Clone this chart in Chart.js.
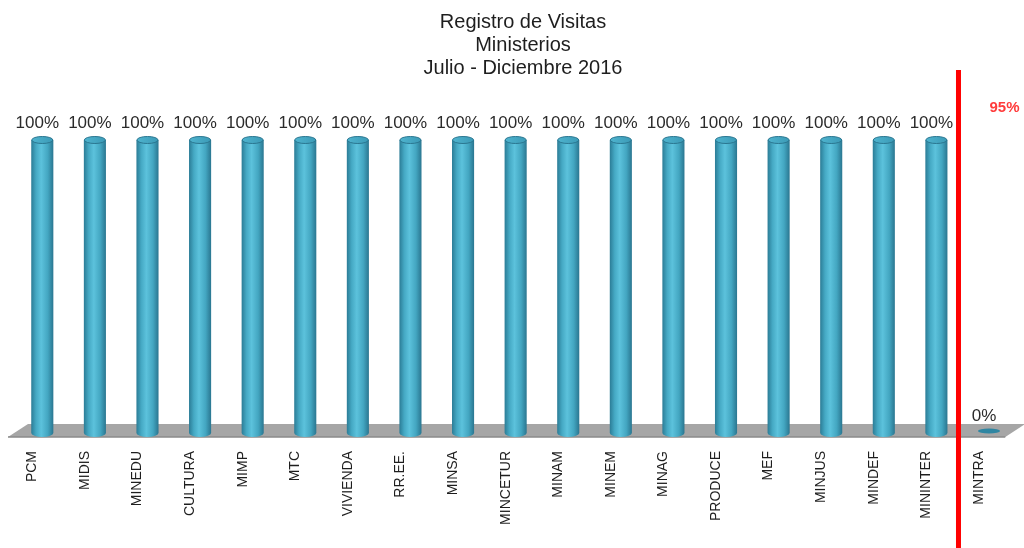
<!DOCTYPE html>
<html><head><meta charset="utf-8">
<script src="https://cdn.jsdelivr.net/npm/chart.js@4.4.1/dist/chart.umd.min.js"></script>
<style>html,body{margin:0;padding:0;background:#fff;overflow:hidden}#wrap{width:1024px;height:548px}</style>
</head><body><div id="wrap"><canvas id="c" width="1024" height="548"></canvas></div>
<script>
const categories = ['PCM','MIDIS','MINEDU','CULTURA','MIMP','MTC','VIVIENDA','RR.EE.','MINSA','MINCETUR','MINAM','MINEM','MINAG','PRODUCE','MEF','MINJUS','MINDEF','MININTER','MINTRA'];
const visitas = [100,100,100,100,100,100,100,100,100,100,100,100,100,100,100,100,100,100,0];
const titleLines = ['Registro de Visitas','Ministerios','Julio - Diciembre 2016'];
const metaLabel = '95%';
const metaPos = 17.42;

const FONT = "'Liberation Sans', Arial, sans-serif";

const cylPlugin = {
  id: 'cyl',
  beforeDatasetsDraw(chart) {
    const {ctx, chartArea: a} = chart;
    const b = a.bottom;
    ctx.save();
    ctx.beginPath();
    ctx.moveTo(a.left + 12, b - 9);
    ctx.lineTo(a.right + 10, b - 9);
    ctx.lineTo(a.right - 10, b + 4);
    ctx.lineTo(a.left - 8, b + 4);
    ctx.closePath();
    ctx.fillStyle = '#a6a6a6';
    ctx.fill();
    ctx.beginPath();
    ctx.moveTo(a.left - 8, b + 4);
    ctx.lineTo(a.right - 10, b + 4);
    ctx.strokeStyle = '#8a8a8a';
    ctx.lineWidth = 1.5;
    ctx.stroke();
    ctx.restore();
  },
  afterDatasetsDraw(chart) {
    const {ctx} = chart;
    const meta = chart.getDatasetMeta(0);
    ctx.save();
    meta.data.forEach((bar, i) => {
      const p = bar.getProps(['x','y','base','width'], true);
      const x = p.x, top = p.y, base = p.base, w = p.width, r = w / 2, ry = 4;
      if (base - top > 1) {
        const g = ctx.createLinearGradient(x - r, 0, x + r, 0);
        g.addColorStop(0, '#2b7c96');
        g.addColorStop(0.22, '#45a9c4');
        g.addColorStop(0.45, '#5cc2dc');
        g.addColorStop(0.75, '#43a6c1');
        g.addColorStop(1, '#2a7690');
        ctx.beginPath();
        ctx.moveTo(x - r, top);
        ctx.lineTo(x - r, base);
        ctx.ellipse(x, base, r, ry, 0, Math.PI, 0, true);
        ctx.lineTo(x + r, top);
        ctx.closePath();
        ctx.fillStyle = g;
        ctx.fill();
        const g2 = ctx.createLinearGradient(x - r, 0, x + r, 0);
        g2.addColorStop(0, '#4fb4cf');
        g2.addColorStop(1, '#3b9ab6');
        ctx.beginPath();
        ctx.ellipse(x, top, r - 0.5, ry - 0.5, 0, 0, Math.PI * 2);
        ctx.fillStyle = g2;
        ctx.fill();
        ctx.strokeStyle = '#2a7690';
        ctx.lineWidth = 1;
        ctx.stroke();
      } else {
        ctx.beginPath();
        ctx.ellipse(x, base - 2, r, 2.5, 0, 0, Math.PI * 2);
        ctx.fillStyle = '#2f86a2';
        ctx.fill();
      }
      ctx.fillStyle = '#2b2b2b';
      ctx.font = '17px ' + FONT;
      ctx.textAlign = 'center';
      ctx.textBaseline = 'middle';
      ctx.fillText(visitas[i] + '%', x - 5, top - 17);
    });
    ctx.restore();
  },
  afterDraw(chart) {
    const {ctx, chartArea: a} = chart;
    const xs = chart.scales.x;
    ctx.save();
    ctx.fillStyle = '#1e1e1e';
    ctx.font = '20px ' + FONT;
    ctx.textAlign = 'center';
    ctx.textBaseline = 'middle';
    titleLines.forEach((t, k) => ctx.fillText(t, 523, 22 + k * 23));
    const lx = xs.getPixelForValue(metaPos);
    ctx.fillStyle = '#ff0000';
    ctx.fillRect(lx - 2.5, 70, 5, chart.height - 70);
    ctx.fillStyle = '#ff3b3b';
    ctx.font = 'bold 15px ' + FONT;
    ctx.fillText(metaLabel, lx + 46, 108);
    ctx.restore();
  }
};

new Chart(document.getElementById('c'), {
  type: 'bar',
  data: {
    labels: categories,
    datasets: [{
      data: visitas,
      backgroundColor: 'rgba(0,0,0,0)',
      borderWidth: 0,
      categoryPercentage: 1,
      barPercentage: 0.42
    }]
  },
  options: {
    responsive: false,
    devicePixelRatio: 1,
    animation: false,
    layout: {padding: {top: 140, left: 16, right: 8, bottom: 0}},
    plugins: {legend: {display: false}, tooltip: {enabled: false}, title: {display: false}},
    scales: {
      y: {display: false, min: 0, max: 100},
      x: {
        grid: {display: false, drawTicks: false},
        border: {display: false},
        ticks: {
          minRotation: 90, maxRotation: 90, autoSkip: false,
          padding: 18, labelOffset: -10,
          color: '#1e1e1e', font: {family: FONT, size: 14}
        },
        afterFit(s) { s.height = 115; }
      }
    }
  },
  plugins: [cylPlugin]
});
</script>
</body></html>
